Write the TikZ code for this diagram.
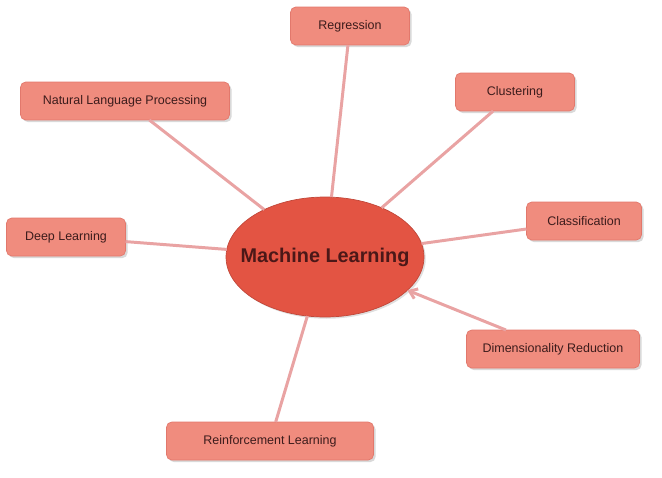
\documentclass[tikz,border=0pt]{standalone}
\usepackage{fontspec}
\setmainfont{Liberation Sans}
\usetikzlibrary{shapes.geometric,shadows,arrows.meta}
\definecolor{hubfill}{RGB}{227,84,67}
\definecolor{hubtext}{RGB}{75,24,24}
\definecolor{topicfill}{RGB}{240,140,126}
\definecolor{topicdraw}{RGB}{226,120,108}
\definecolor{topictext}{RGB}{60,28,28}
\definecolor{spoke}{RGB}{233,163,163}
\begin{document}
\begin{tikzpicture}[x=0.02cm,y=-0.02cm,inner sep=0pt,outer sep=0pt,
hub/.style={draw=hubfill!85!black,fill=hubfill,ellipse,inner xsep=-0.3cm,minimum width=3.96cm,minimum height=2.4cm,
  text=hubtext,font=\fontsize{11.3}{13}\selectfont\bfseries,drop shadow={opacity=0.25,shadow xshift=1pt,shadow yshift=-1pt}},
topic/.style={draw=topicdraw,fill=topicfill,rectangle,rounded corners=3pt,minimum height=0.76cm,
  text=topictext,font=\fontsize{7.1}{9}\selectfont,drop shadow={opacity=0.3,shadow xshift=1.2pt,shadow yshift=-1.2pt}},
spokeline/.style={draw=spoke,line width=1.7pt}]
\useasboundingbox (0,0) rectangle (662,477);
\draw (325,257) node[hub] (ml) {Machine Learning};
\draw (350,26) node[topic,minimum width=2.38cm] (reg) {Regression};
\draw (515,92) node[topic,minimum width=2.38cm] (clu) {Clustering};
\draw (584,221) node[topic,minimum width=2.3cm] (cla) {Classification};
\draw (553,349) node[topic,minimum width=3.46cm] (dim) {Dimensionality Reduction};
\draw (270,441) node[topic,minimum width=4.14cm] (rl) {Reinforcement Learning};
\draw (66,237) node[topic,minimum width=2.38cm] (dl) {Deep Learning};
\draw (125,101) node[topic,minimum width=4.18cm] (nlp) {Natural Language Processing};
\draw[spokeline] (ml) -- (reg);
\draw[spokeline] (ml) -- (clu);
\draw[spokeline] (ml) -- (cla);
\draw[spokeline,{Straight Barb[length=4pt,width=6pt]}-] (ml) -- (dim);
\draw[spokeline] (ml) -- (rl);
\draw[spokeline] (ml) -- (dl);
\draw[spokeline] (ml) -- (nlp);
\end{tikzpicture}
\end{document}
